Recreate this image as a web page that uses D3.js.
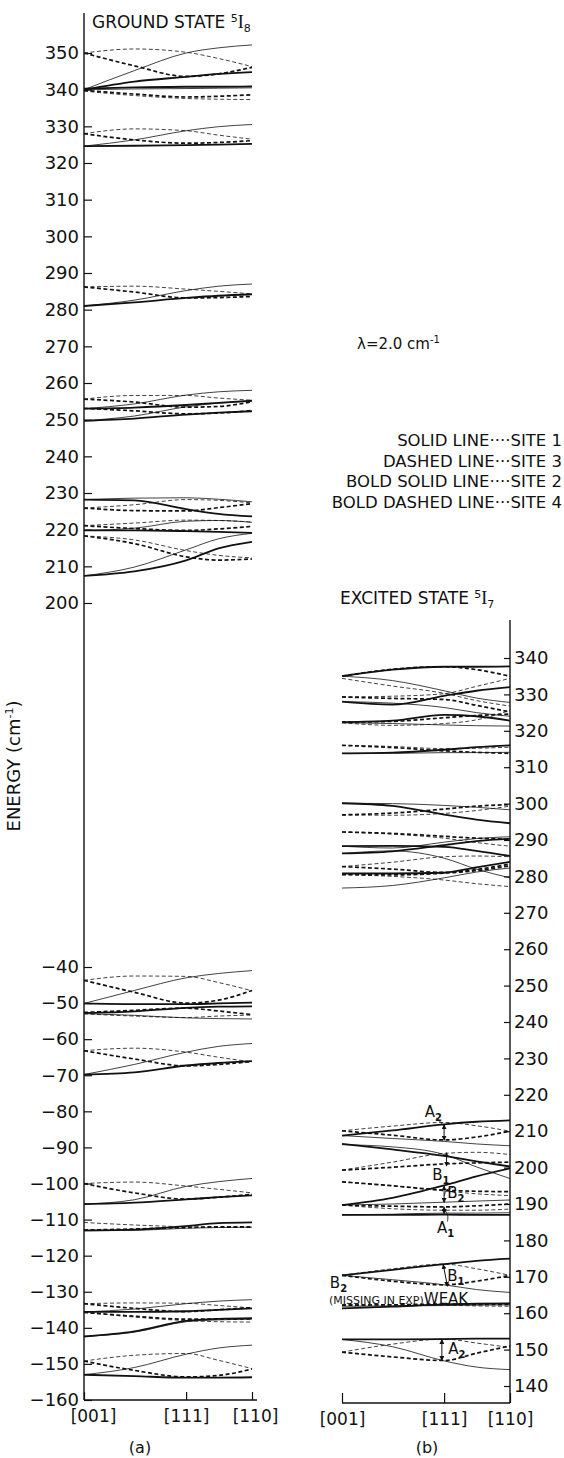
<!DOCTYPE html>
<html>
<head>
<meta charset="utf-8">
<script src="https://cdn.jsdelivr.net/npm/d3@7"></script>
<style>
body { margin: 0; background: #fff; }
svg text { font-family: "DejaVu Sans", sans-serif; fill: #111; }
</style>
</head>
<body>
<svg id="svg" width="564" height="1458"></svg>
<script>
// field direction (degrees from [001]) at which each level is sampled
var angles = [0, 27, 54.7, 72, 90];
var dirTicks = [0, 54.7, 90];
var dirLabels = ['[001]', '[111]', '[110]'];
var groundHiTicks = d3.range(200, 351, 10);
var groundLoTicks = d3.range(-160, -39, 10);
var excitedTicks = d3.range(140, 341, 10);

// [site, E at each angle]  site 1 solid, 2 bold solid, 3 dashed, 4 bold dashed
var groundHi = [
    [3, 350, 351.1, 350.2, 348.5, 346.3],
    [4, 350, 346.5, 343.6, 344.3, 346.1],
    [1, 340, 345.2, 350, 351.4, 352.2],
    [2, 340, 342.2, 343.5, 344.3, 344.8],
    [2, 340.3, 340.6, 340.8, 340.8, 340.9],
    [1, 340, 340.2, 340.3, 340.4, 340.5],
    [4, 339.8, 338.8, 338.0, 338.2, 338.6],
    [3, 339.6, 338.4, 337.6, 337.4, 337.3],
    [3, 328, 329.3, 328.8, 327.6, 326.5],
    [4, 328, 326.3, 325.4, 325.6, 326.1],
    [1, 324.6, 326.3, 328.8, 329.9, 330.5],
    [2, 324.6, 324.7, 324.9, 325.0, 325.2],
    [3, 286.2, 286.4, 285.6, 285.0, 284.3],
    [4, 286.2, 284.8, 283.2, 283.3, 283.6],
    [1, 281, 282.6, 285.2, 286.4, 287],
    [2, 281, 282, 283.2, 283.8, 284.2],
    [3, 255.6, 256.6, 256.6, 255.9, 255.3],
    [4, 255.6, 254.8, 253.4, 253.6, 254.9],
    [1, 253, 254.3, 256.7, 257.6, 258],
    [2, 253, 253.3, 254, 254.6, 255.2],
    [4, 253.1, 252.4, 251.6, 251.8, 252.5],
    [1, 249.7, 251, 253.5, 254.5, 255],
    [2, 249.7, 250.3, 251.4, 251.9, 252.3],
    [2, 228.2, 228.0, 225.6, 224.3, 223.6],
    [1, 228.2, 228.6, 228.7, 228.3, 227.6],
    [3, 225.9, 226.8, 228.2, 228.0, 227.3],
    [4, 225.9, 225.2, 225.1, 226, 227.1],
    [3, 221.1, 221.8, 222.6, 222.5, 222.1],
    [4, 221.1, 220.3, 219.8, 220.2, 220.9],
    [1, 219.8, 220.4, 222.3, 222.5, 222.0],
    [2, 219.8, 219.8, 219.6, 219.4, 219.1],
    [3, 218.3, 217.2, 214.3, 213, 212.3],
    [4, 218.3, 216.2, 212.6, 211.7, 212.0],
    [1, 207.4, 209.8, 214.5, 217.5, 219],
    [2, 207.4, 208.6, 211.6, 214.9, 216.7]
];

var groundLo = [
    [3, -43.7, -42.5, -42.6, -44.3, -46.6],
    [4, -43.7, -47.0, -50.0, -49.2, -46.5],
    [1, -50.1, -46.5, -43.0, -41.8, -41.0],
    [2, -50.1, -50.3, -50.3, -50.1, -49.9],
    [2, -52.8, -52.3, -51.3, -51.0, -50.9],
    [4, -52.6, -52.0, -51.4, -52.2, -53.2],
    [1, -52.9, -53.4, -54.1, -54.3, -54.4],
    [3, -53.0, -53.6, -54.0, -53.6, -53.3],
    [3, -63.2, -62.5, -63.6, -65.0, -66.3],
    [4, -63.2, -65.5, -67.4, -67.0, -66.2],
    [1, -69.8, -67.0, -63.6, -62.0, -61.2],
    [2, -69.8, -69.2, -67.3, -66.6, -66.1],
    [3, -100, -99.6, -100.7, -101.6, -102.6],
    [4, -100, -102.6, -104.3, -103.8, -103.0],
    [1, -105.7, -104.5, -100.8, -99.5, -98.6],
    [2, -105.7, -105.3, -104.4, -103.8, -103.3],
    [3, -110.8, -111.5, -112.0, -112.2, -112.2],
    [2, -113.0, -112.8, -111.8, -111.0, -110.8],
    [4, -112.9, -112.6, -112.2, -112.0, -112.0],
    [1, -113.1, -113.0, -112.4, -112.2, -112.1],
    [3, -133.3, -133.1, -133.2, -133.8, -134.5],
    [4, -133.3, -134.6, -135.5, -135.0, -134.4],
    [1, -135.6, -134.8, -133.3, -132.6, -132.2],
    [2, -135.6, -135.6, -135.4, -135.0, -134.6],
    [3, -135.7, -137.0, -138.0, -138.3, -138.4],
    [4, -135.7, -136.8, -137.6, -137.6, -137.5],
    [2, -142.4, -141.0, -138.1, -137.5, -137.3],
    [1, -142.4, -141.2, -138.3, -137.8, -137.6],
    [3, -149.2, -147.6, -147.1, -149.0, -151.3],
    [4, -149.2, -151.8, -153.6, -153.2, -151.4],
    [1, -153.0, -151.0, -147.3, -145.6, -144.8],
    [2, -153.0, -153.4, -153.8, -153.8, -153.7]
];

var excited = [
    [2, 335, 336.8, 337.6, 337.6, 337.7],
    [4, 335, 336.9, 337.6, 336.8, 335],
    [1, 335, 333.8, 331, 329, 327.8],
    [3, 334.4, 332.3, 330.3, 328.3, 326.8],
    [3, 329.3, 329.5, 330.2, 332.2, 334.4],
    [4, 329.3, 328.9, 328.6, 327, 325.2],
    [1, 328, 327.6, 326.4, 325, 324],
    [2, 328, 327.2, 329.6, 331, 332],
    [2, 322.4, 322.8, 324.4, 324, 322.8],
    [4, 322.4, 322.6, 323.6, 324.2, 324.6],
    [1, 322.2, 322.0, 321.6, 321.4, 321.3],
    [3, 322.2, 321.5, 322, 323, 325.6],
    [3, 316, 315.7, 315.1, 315.2, 315.5],
    [4, 316, 315.4, 314.5, 314.1, 313.8],
    [1, 313.8, 313.8, 314, 314, 314.1],
    [2, 313.8, 314, 314.8, 315.5, 316],
    [2, 300.1, 299.4, 297, 295.6, 294.6],
    [1, 300.1, 300, 299.5, 299, 298.3],
    [4, 296.9, 297.4, 298.5, 299.3, 299.7],
    [3, 296.9, 296.8, 297.3, 298.1, 299.3],
    [3, 292.2, 291.6, 290.5, 289.3, 288.3],
    [4, 292.2, 291.8, 291, 290.5, 290.2],
    [2, 288.3, 288.4, 288.1, 287, 285.6],
    [1, 288.3, 287.8, 289.4, 290.4, 290.9],
    [1, 286.3, 287, 285, 282, 279.6],
    [2, 286.3, 286.9, 288.6, 289.7, 290.3],
    [3, 282.7, 283.9, 285.4, 285.6, 285.4],
    [4, 282.7, 282, 281.1, 281.9, 283.4],
    [3, 280.5, 280, 279, 278, 277.2],
    [4, 280.5, 280.4, 280.9, 281.6, 282.9],
    [2, 280.8, 280.8, 281, 282.5, 284],
    [1, 276.8, 277.5, 279.6, 281.2, 282.3],
    [3, 210.1, 211.4, 212.4, 211.5, 210],
    [4, 210.1, 208.9, 207.6, 208.4, 210],
    [2, 208.8, 210.2, 211.9, 212.6, 213],
    [1, 208.8, 208, 207.2, 206.5, 206],
    [2, 206.5, 205, 203.2, 201.7, 200.3],
    [1, 206.3, 205.7, 203.6, 200.2, 197],
    [3, 199.3, 201.5, 203.9, 204.2, 203.6],
    [4, 199.3, 200.1, 201, 201.3, 201.5],
    [3, 196.1, 195, 193.6, 192.8, 192.3],
    [4, 196.1, 195, 193.8, 193.5, 193.4],
    [2, 189.7, 191.7, 195.1, 197.6, 199.8],
    [1, 189.7, 190, 190.5, 190.8, 191.1],
    [3, 189.7, 188.7, 188.3, 188.3, 188.6],
    [4, 189.7, 189.4, 189.2, 189.5, 190],
    [2, 187, 187, 187.1, 187, 187],
    [1, 187, 187.2, 187.5, 187.5, 187.6],
    [2, 170.4, 171.9, 173.5, 174.4, 175],
    [3, 170.4, 172.2, 173.5, 172.2, 170.4],
    [4, 170.4, 168.8, 167.8, 168.8, 170.4],
    [1, 170.4, 169.2, 167.8, 166.5, 165.7],
    [2, 161.3, 161.8, 162.4, 162.6, 162.7],
    [4, 162.2, 162.3, 162.5, 162.5, 162.4],
    [1, 161.9, 162, 162.1, 162.2, 162.3],
    [3, 162.4, 162.3, 162.2, 162, 161.9],
    [2, 152.8, 152.8, 152.9, 153, 153],
    [1, 152.8, 150.8, 146.9, 145.2, 144.5],
    [3, 149.3, 151.5, 152.9, 151.8, 150.6],
    [4, 149.3, 148, 147, 149, 151]
];

// splittings marked in (b): [angle1, E1, angle2, E2]
var splitArrows = [
    [54.7, 211.8, 54.7, 207.5],
    [56, 204.1, 56, 200.4],
    [54.7, 195.0, 54.7, 190.4],
    [54.7, 189.2, 54.7, 187.3],
    [54.2, 173.4, 56.5, 167.4],
    [53.5, 152.8, 53.5, 147.0]
];
// [letter, subscript, angle, E]
var splitLabels = [
    ['A', '2', 49, 215.3],
    ['B', '1', 53, 198.0],
    ['B', '2', 61, 193.0],
    ['A', '1', 55.5, 183.6],
    ['B', '1', 61, 170.2],
    ['A', '2', 61.5, 150.2]
];

var svg = d3.select('svg');

var xL = d3.scaleLinear().domain([0, 90]).range([84, 252]);
var xR = d3.scaleLinear().domain([0, 90]).range([342, 510]);
var yHi = d3.scaleLinear().domain([200, 350]).range([603, 53]);
var yLo = d3.scaleLinear().domain([-160, -40]).range([1400, 967]);
var yEx = d3.scaleLinear().domain([140, 340]).range([1386, 658]);

var siteStyle = {
    1: {w: 0.8, dash: null},
    2: {w: 1.8, dash: null},
    3: {w: 0.8, dash: '4,2.5'},
    4: {w: 1.7, dash: '4,2.5'}
};

function drawLevels(rows, x, y) {
    var line = d3.line()
        .x(function(d) { return x(d[0]); })
        .y(function(d) { return y(d[1]); })
        .curve(d3.curveMonotoneX);
    svg.append('g')
        .selectAll('path')
        .data(rows)
        .enter()
        .append('path')
        .attr('d', function(r) {
            return line(angles.map(function(a, i) { return [a, r[i + 1]]; }));
        })
        .attr('fill', 'none')
        .attr('stroke', '#111')
        .attr('stroke-width', function(r) { return siteStyle[r[0]].w; })
        .attr('stroke-dasharray', function(r) { return siteStyle[r[0]].dash; });
}

function styleAxis(g, size) {
    g.select('.domain').remove();
    g.attr('font-family', null).attr('font-size', null);
    g.selectAll('line').attr('stroke', '#111').attr('stroke-width', 1.2);
    g.selectAll('text').attr('font-size', size).attr('fill', '#111');
}

function vline(x, y1, y2) {
    svg.append('line').attr('x1', x).attr('x2', x).attr('y1', y1).attr('y2', y2)
        .attr('stroke', '#111').attr('stroke-width', 1.4);
}
function hline(y, x1, x2) {
    svg.append('line').attr('x1', x1).attr('x2', x2).attr('y1', y).attr('y2', y)
        .attr('stroke', '#111').attr('stroke-width', 1.4);
}

// ---- panel (a): ground state, broken energy axis
svg.append('g').attr('transform', 'translate(84,0)')
    .call(d3.axisLeft(yHi).tickValues(groundHiTicks).tickSize(-8).tickPadding(5))
    .call(styleAxis, '18px');
svg.append('g').attr('transform', 'translate(84,0)')
    .call(d3.axisLeft(yLo).tickValues(groundLoTicks).tickSize(-8).tickPadding(5))
    .call(styleAxis, '18px');
vline(84, 13, 1400);
hline(1400, 84, 257);
var bottomA = svg.append('g').attr('transform', 'translate(0,1400)')
    .call(d3.axisBottom(xL).tickValues(dirTicks).tickSize(-8).tickPadding(10)
        .tickFormat(function(d, i) { return dirLabels[i]; }))
    .call(styleAxis, '17px');
bottomA.selectAll('.tick').filter(function(d) { return d === 0; }).select('text').attr('dx', 9);
bottomA.selectAll('.tick').filter(function(d) { return d === 90; }).select('text').attr('dx', 3);

drawLevels(groundHi, xL, yHi);
drawLevels(groundLo, xL, yLo);

var t1 = svg.append('text').attr('x', 92).attr('y', 28).attr('font-size', '17px');
t1.append('tspan').text('GROUND STATE ');
t1.append('tspan').attr('dy', -6).attr('font-size', '11px').text('5');
t1.append('tspan').attr('dy', 6).attr('font-family', 'Liberation Serif, serif').attr('font-size', '18px').text('I');
t1.append('tspan').attr('dy', 4).attr('font-size', '11px').text('8');

svg.append('text')
    .attr('transform', 'translate(20,766) rotate(-90)')
    .attr('text-anchor', 'middle')
    .attr('font-size', '18px')
    .call(function(t) {
        t.append('tspan').text('ENERGY  (cm');
        t.append('tspan').attr('dy', -7).attr('font-size', '11px').text('-1');
        t.append('tspan').attr('dy', 7).text(')');
    });

// ---- panel (b): excited state
svg.append('g').attr('transform', 'translate(510,0)')
    .call(d3.axisRight(yEx).tickValues(excitedTicks).tickSize(-6).tickPadding(4))
    .call(styleAxis, '18px');
vline(510, 620, 1403);
hline(1403, 342, 510);
svg.append('g').attr('transform', 'translate(0,1403)')
    .call(d3.axisBottom(xR).tickValues(dirTicks).tickSize(-10).tickPadding(10)
        .tickFormat(function(d, i) { return dirLabels[i]; }))
    .call(styleAxis, '17px');

drawLevels(excited, xR, yEx);

var t2 = svg.append('text').attr('x', 340).attr('y', 604).attr('font-size', '17px');
t2.append('tspan').text('EXCITED STATE ');
t2.append('tspan').attr('dy', -6).attr('font-size', '11px').text('5');
t2.append('tspan').attr('dy', 6).attr('font-family', 'Liberation Serif, serif').attr('font-size', '18px').text('I');
t2.append('tspan').attr('dy', 4).attr('font-size', '11px').text('7');

// splitting arrows
svg.append('defs').append('marker')
    .attr('id', 'ah').attr('viewBox', '0 0 6 6').attr('refX', 5.5).attr('refY', 3)
    .attr('markerWidth', 5).attr('markerHeight', 5).attr('orient', 'auto-start-reverse')
    .append('path').attr('d', 'M0,0L6,3L0,6Z').attr('fill', '#111');

svg.append('g').selectAll('line').data(splitArrows).enter().append('line')
    .attr('x1', function(d) { return xR(d[0]); })
    .attr('y1', function(d) { return yEx(d[1]); })
    .attr('x2', function(d) { return xR(d[2]); })
    .attr('y2', function(d) { return yEx(d[3]); })
    .attr('stroke', '#111').attr('stroke-width', 1)
    .attr('marker-start', 'url(#ah)').attr('marker-end', 'url(#ah)');

svg.append('g').selectAll('text').data(splitLabels).enter().append('text')
    .attr('x', function(d) { return xR(d[2]); })
    .attr('y', function(d) { return yEx(d[3]); })
    .attr('dy', '0.35em').attr('text-anchor', 'middle').attr('font-size', '15px')
    .each(function(d) {
        var t = d3.select(this);
        t.append('tspan').text(d[0]);
        t.append('tspan').attr('dy', 4).attr('font-size', '10px').attr('font-weight', 'bold').text(d[1]);
    });

// leader curves from labels to arrows
var leaders = [
    [[50.5, 213.6], [53.5, 212.2], [54.5, 211.3]],
    [[59.5, 194.6], [55.5, 194.0], [54.9, 192.3]],
    [[56.5, 185.2], [57.0, 187.0], [55.0, 188.4]]
];
svg.append('g').selectAll('path').data(leaders).enter().append('path')
    .attr('d', d3.line()
        .x(function(d) { return xR(d[0]); })
        .y(function(d) { return yEx(d[1]); })
        .curve(d3.curveBasis))
    .attr('fill', 'none').attr('stroke', '#111').attr('stroke-width', 0.9);

var b2 = svg.append('text').attr('x', xR(-6.5)).attr('y', yEx(167.0)).attr('font-size', '15px');
b2.append('tspan').text('B');
b2.append('tspan').attr('dy', 4).attr('font-size', '10px').attr('font-weight', 'bold').text('2');
var miss = svg.append('text').attr('x', xR(-7)).attr('y', yEx(162.5)).attr('font-size', '15px');
miss.append('tspan').attr('font-size', '11px').text('(MISSING IN EXP)');
miss.append('tspan').text('WEAK');

// notes
var lam = svg.append('text').attr('x', 357).attr('y', 349).attr('font-size', '15px');
lam.append('tspan').text('\u03bb=2.0 cm');
lam.append('tspan').attr('dy', -6).attr('font-size', '10px').text('-1');

var legend = [
    'SOLID LINE\u00b7\u00b7\u00b7\u00b7SITE 1',
    'DASHED LINE\u00b7\u00b7\u00b7SITE 3',
    'BOLD SOLID LINE\u00b7\u00b7\u00b7\u00b7SITE 2',
    'BOLD DASHED LINE\u00b7\u00b7\u00b7SITE 4'
];
svg.append('g').selectAll('text').data(legend).enter().append('text')
    .attr('x', 562)
    .attr('y', function(d, i) { return 446 + i * 20.7; })
    .attr('text-anchor', 'end')
    .attr('font-size', '16.5px')
    .text(function(d) { return d; });

svg.append('text').attr('x', 140).attr('y', 1453).attr('text-anchor', 'middle')
    .attr('font-family', 'Liberation Serif, serif').attr('font-size', '16px').text('(a)');
svg.append('text').attr('x', 427).attr('y', 1453).attr('text-anchor', 'middle')
    .attr('font-family', 'Liberation Serif, serif').attr('font-size', '16px').text('(b)');
</script>
</body>
</html>
